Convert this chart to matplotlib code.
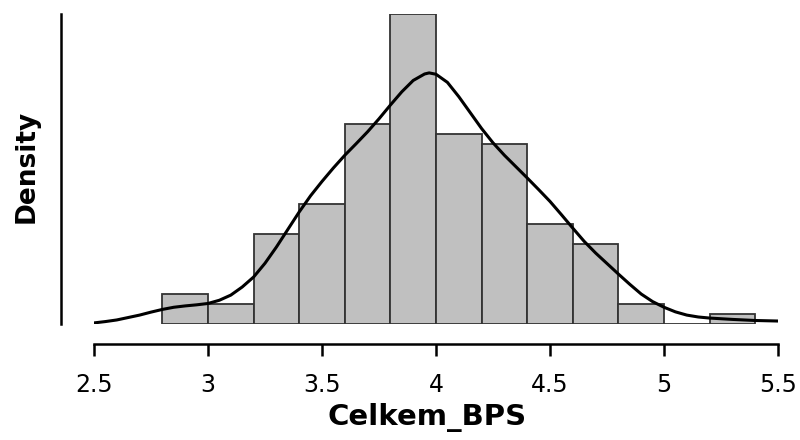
import numpy as np
from matplotlib import pyplot as plt

bin_edges = [2.8, 3.0, 3.2, 3.4, 3.6, 3.8, 4.0, 4.2, 4.4, 4.6, 4.8, 5.0, 5.2, 5.4]
counts = [3, 2, 9, 12, 20, 31, 19, 18, 10, 8, 2, 0, 1]

# density curve
kde_x = [2.5, 2.55, 2.6, 2.65, 2.7, 2.75, 2.8, 2.85, 2.9, 2.95, 3.0, 3.05, 3.1, 3.15,
         3.2, 3.25, 3.3, 3.35, 3.4, 3.45, 3.5, 3.55, 3.6, 3.65, 3.7, 3.75, 3.8, 3.85,
         3.9, 3.95, 3.97, 4.0, 4.05, 4.1, 4.15, 4.2, 4.25, 4.3, 4.35, 4.4, 4.45, 4.5,
         4.55, 4.6, 4.65, 4.7, 4.75, 4.8, 4.85, 4.9, 4.95, 5.0, 5.05, 5.1, 5.15, 5.2,
         5.3, 5.4, 5.5]
kde_y = [0.004, 0.009, 0.015, 0.024, 0.033, 0.044, 0.054, 0.062, 0.067, 0.071, 0.076,
         0.088, 0.107, 0.137, 0.174, 0.225, 0.285, 0.35, 0.415, 0.475, 0.528, 0.578, 0.625,
         0.668, 0.712, 0.76, 0.811, 0.86, 0.902, 0.926, 0.93, 0.925, 0.895, 0.842, 0.783,
         0.724, 0.671, 0.625, 0.583, 0.541, 0.498, 0.454, 0.405, 0.355, 0.306, 0.263, 0.224,
         0.185, 0.147, 0.111, 0.083, 0.062, 0.045, 0.033, 0.026, 0.022, 0.017, 0.013, 0.011]

xticks = [2.5, 3, 3.5, 4, 4.5, 5, 5.5]
xtick_labels = ["2.5", "3", "3.5", "4", "4.5", "5", "5.5"]


def main():
    edges = np.array(bin_edges)
    widths = np.diff(edges)
    total = sum(counts)
    heights = np.array(counts) / (total * widths)

    fig = plt.figure(figsize=(8, 4.4), dpi=100)
    ax = fig.add_axes([94 / 800, 116 / 440, 684 / 800, 310 / 440])

    ax.bar(edges[:-1], heights, width=widths, align='edge', color='#c0c0c0',
           edgecolor='#333333', linewidth=1.3, zorder=1)
    ax.plot(kde_x, kde_y, color='black', linewidth=2.2, zorder=2,
            solid_capstyle='round', solid_joinstyle='round')

    ax.set_xlim(2.5, 5.5)
    ax.set_ylim(0, heights.max())

    for s in ['top', 'right']:
        ax.spines[s].set_visible(False)
    ax.spines['left'].set_position(('outward', 23.8))
    ax.spines['left'].set_bounds(0, heights.max())
    ax.spines['left'].set_linewidth(1.8)
    ax.spines['bottom'].set_position(('outward', 14.4))
    ax.spines['bottom'].set_bounds(2.5, 5.5)
    ax.spines['bottom'].set_linewidth(1.8)

    ax.set_yticks([])
    ax.set_xticks(xticks)
    ax.set_xticklabels(xtick_labels, fontsize=17)
    ax.tick_params(axis='x', length=8.6, width=1.8, pad=12)

    fig.text(427 / 800, 1 - 417 / 440, "Celkem_BPS", fontsize=21, fontweight='bold',
             ha='center', va='center')
    fig.text(27 / 800, 1 - 166 / 440, "Density", fontsize=19, fontweight='bold',
             rotation=90, ha='center', va='center')

    fig.savefig("out.png", dpi=100)


if __name__ == '__main__':
    main()
